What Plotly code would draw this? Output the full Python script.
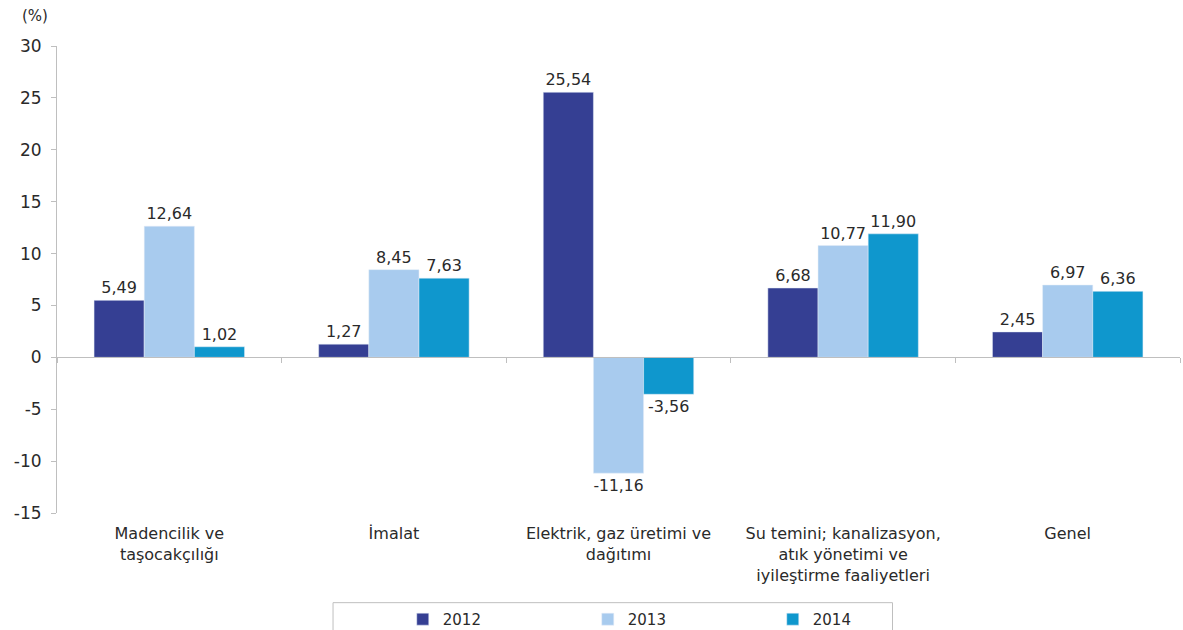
import plotly.graph_objects as go

categories = ["Madencilik ve<br>taşocakçılığı", "İmalat", "Elektrik, gaz üretimi ve<br>dağıtımı",
              "Su temini; kanalizasyon,<br>atık yönetimi ve<br>iyileştirme faaliyetleri", "Genel"]
years = ["2012", "2013", "2014"]
v2012 = [5.49, 1.27, 25.54, 6.68, 2.45]
v2013 = [12.64, 8.45, -11.16, 10.77, 6.97]
v2014 = [1.02, 7.63, -3.56, 11.90, 6.36]
colors = ["#353F93", "#A8CBEE", "#0F97CD"]
y_ticks = [-15, -10, -5, 0, 5, 10, 15, 20, 25, 30]

FONT = "DejaVu Sans, Verdana, sans-serif"
TXT = "#2a2a2a"

fig = go.Figure()
for name, vals, col in zip(years, [v2012, v2013, v2014], colors):
    fig.add_trace(go.Bar(
        x=categories, y=vals, name=name, marker_color=col,
        text=[f"{v:.2f}".replace(".", ",") for v in vals],
        textposition="outside", cliponaxis=False,
        textfont=dict(family=FONT, size=16, color=TXT),
    ))

# zero-crossing axis line with boundary ticks
fig.add_trace(go.Bar(x=categories, y=[None]*5, xaxis="x2", showlegend=False, hoverinfo="skip"))

ymin, ymax = y_ticks[0], y_ticks[-1]
zero_pos = (0 - ymin) / (ymax - ymin)

fig.update_layout(
    width=1183, height=630,
    margin=dict(l=57, r=3, t=46, b=117),
    paper_bgcolor="white", plot_bgcolor="white",
    barmode="group", bargap=0.33, bargroupgap=0,
    font=dict(family=FONT, size=15, color=TXT),
    xaxis=dict(showline=False, ticks="", showgrid=False, tickfont=dict(size=16, color=TXT),
               ticklabelstandoff=9, automargin=False),
    xaxis2=dict(overlaying="x", matches="x", anchor="free", position=zero_pos,
                showline=True, linecolor="#BFBFBF", linewidth=1,
                ticks="outside", tickson="boundaries", ticklen=5, tickcolor="#BFBFBF",
                showticklabels=False, showgrid=False, type="category", automargin=False),
    yaxis=dict(range=[ymin, ymax], tickvals=y_ticks, ticktext=[str(v) for v in y_ticks],
               showgrid=False, zeroline=False, automargin=False,
               showline=True, linecolor="#BFBFBF", linewidth=1,
               ticks="outside", ticklen=5, tickcolor="#BFBFBF", ticklabelstandoff=6,
               tickfont=dict(size=17, color=TXT)),
    legend=dict(orientation="h", x=0.555, xanchor="center",
                yref="container", y=0.043, yanchor="top",
                entrywidth=140, entrywidthmode="pixels", itemwidth=30,
                font=dict(size=15, color=TXT), bgcolor="rgba(0,0,0,0)"),
    annotations=[dict(text="(%)", xref="paper", yref="paper", x=-0.02, y=1.04,
                      xanchor="center", yanchor="bottom", showarrow=False,
                      font=dict(size=15, color=TXT))],
    shapes=[dict(type="rect", xref="paper", yref="paper", x0=0.2458, x1=0.744,
                 y0=-0.192, y1=-0.30, line=dict(color="#BFBFBF", width=1))],
)

fig.write_html("out.html", config={"displayModeBar": False},
               post_script="document.body.style.margin='0';")
